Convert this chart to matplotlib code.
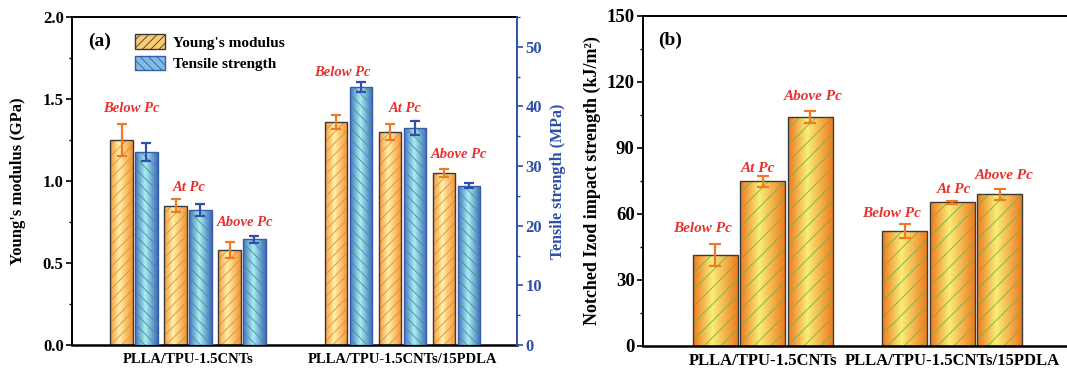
import numpy as np
import matplotlib
matplotlib.use('Agg')
import matplotlib.pyplot as plt
from matplotlib.ticker import MultipleLocator
from matplotlib.colors import LinearSegmentedColormap
from matplotlib.patches import Patch

# ---------------- data ----------------
groups = ['PLLA/TPU-1.5CNTs', 'PLLA/TPU-1.5CNTs/15PDLA']
states = ['Below Pc', 'At Pc', 'Above Pc']
# panel (a)
young_modulus = [[1.25, 0.85, 0.58], [1.36, 1.30, 1.05]]      # GPa
young_err = [[0.10, 0.04, 0.05], [0.04, 0.047, 0.025]]
tensile_strength = [[32.3, 22.7, 17.7], [43.3, 36.4, 26.7]]   # MPa
tensile_err = [[1.5, 1.0, 0.6], [0.8, 1.2, 0.4]]
# panel (b)
impact_strength = [[41.3, 74.8, 104.2], [52.2, 65.2, 68.9]]   # kJ/m2
impact_err = [[5.0, 2.5, 2.7], [3.0, 0.6, 2.4]]

# ---------------- style / layout ----------------
plt.rcParams['font.family'] = ['Liberation Serif', 'DejaVu Serif']
plt.rcParams['font.weight'] = 'bold'
plt.rcParams['axes.labelweight'] = 'bold'
plt.rcParams['hatch.linewidth'] = 0.6

RED = '#E8312F'
BLUE = '#2F4FA8'
cm_orange = LinearSegmentedColormap.from_list('o', [(0, '#F59A3A'), (0.4, '#FFF1A8'), (1, '#F29433')])
cm_blue = LinearSegmentedColormap.from_list('b', [(0, '#4573C4'), (0.45, '#A9EEF4'), (1, '#3D68BC')])
cm_b = LinearSegmentedColormap.from_list('y', [(0, '#EF7A1E'), (0.42, '#F8EE78'), (1, '#EE781C')])
grad = np.linspace(0, 1, 64).reshape(1, -1)

# label offsets in points (dx, dy) from bar-pair centre / error-bar top
lab_off_a = [[(-2, 11), (1, 8.5), (2, 9.5)], [(-4, 6.5), (2, 8.5), (2, 10.5)]]
lab_off_b = [[(-9, 11), (-3.5, 5.5), (2, 10)], [(-9.5, 8), (1, 8.5), (3, 9.5)]]

fig = plt.figure(figsize=(10.67, 3.69), dpi=100)
axA = fig.add_axes([72 / 1067, 1 - 345 / 369, 445 / 1067, 328 / 369])
axA2 = axA.twinx()
axB = fig.add_axes([643 / 1067, 1 - 345.7 / 369, 430 / 1067, 329.7 / 369])


def fancy_bars(ax, x, h, w, cmap, hatch, hatch_col, edge_col):
    base = ax.bar(x, h, w, color=cmap(0.5), linewidth=0, zorder=1)
    for r in base:
        bx, by, bw, bh = r.get_x(), r.get_y(), r.get_width(), r.get_height()
        im = ax.imshow(grad, cmap=cmap, extent=[bx, bx + bw, by, by + bh],
                       aspect='auto', zorder=1.5, interpolation='bilinear')
        im.set_clip_path(r)
    ax.bar(x, h, w, fill=False, hatch=hatch, edgecolor=hatch_col, linewidth=0, zorder=2)
    ax.bar(x, h, w, fill=False, edgecolor=edge_col, linewidth=1.0, zorder=2.5)


# ---------------- panel (a) ----------------
gpos = np.arange(len(groups))
pair_off = np.array([-0.252, 0.0, 0.252])
bw = 0.105
half = 0.0575
xpairs = (gpos[:, None] + pair_off[None, :]).ravel()
ym = np.array(young_modulus).ravel()
ye = np.array(young_err).ravel()
ts = np.array(tensile_strength).ravel()
te = np.array(tensile_err).ravel()

fancy_bars(axA, xpairs - half, ym, bw, cm_orange, '///', '#E48A3E', '#3A3A3A')
axA.errorbar(xpairs - half, ym, yerr=ye, fmt='none', ecolor='#F07A22', elinewidth=1.6,
             capsize=3.5, capthick=1.6, zorder=3)
fancy_bars(axA2, xpairs + half, ts, bw, cm_blue, '\\\\\\', '#3E9A70', '#3A5AAA')
axA2.errorbar(xpairs + half, ts, yerr=te, fmt='none', ecolor=BLUE, elinewidth=1.6,
              capsize=3.5, capthick=1.6, zorder=3)

axA.set_xlim(-0.541, 1.534)
axA.set_ylim(0, 2.0)
axA2.set_ylim(0, 55)
axA2.set_xlim(-0.541, 1.534)

for gi in range(len(groups)):
    for si in range(len(states)):
        top_y = young_modulus[gi][si] + young_err[gi][si]
        top_t = (tensile_strength[gi][si] + tensile_err[gi][si]) / 55 * 2.0
        top = max(top_y, top_t)
        dx, dy = lab_off_a[gi][si]
        axA.annotate(states[si], xy=(gi + pair_off[si], top), xytext=(dx, dy),
                     textcoords='offset points', ha='center', va='center',
                     color=RED, style='italic', fontweight='bold', fontsize=10.5, zorder=5)

axA.set_xticks(gpos)
axA.set_xticklabels(groups, fontsize=10.5)
axA.tick_params(axis='x', length=0, pad=6)
axA.yaxis.set_minor_locator(MultipleLocator(0.25))
axA.set_yticks([0.0, 0.5, 1.0, 1.5, 2.0])
axA.set_yticklabels(['0.0', '0.5', '1.0', '1.5', '2.0'])
axA.tick_params(axis='y', which='major', direction='out', length=4, width=1.2, labelsize=12, pad=2)
axA.tick_params(axis='y', which='minor', direction='out', length=2.5, width=1.0)
axA.set_ylabel("Young's modulus (GPa)", fontsize=12, labelpad=12)

axA2.yaxis.set_major_locator(MultipleLocator(10))
axA2.yaxis.set_minor_locator(MultipleLocator(5))
axA2.tick_params(axis='y', which='major', direction='out', length=4, width=1.2,
                 labelsize=12, colors=BLUE, pad=2)
axA2.tick_params(axis='y', which='minor', direction='out', length=2.5, width=1.0, colors=BLUE)
axA2.set_ylabel('Tensile strength (MPa)', fontsize=11.5, color=BLUE, labelpad=6)

for sp in ['left', 'top']:
    axA.spines[sp].set_linewidth(1.4)
axA.spines['bottom'].set_linewidth(1.8)
axA.spines['right'].set_visible(False)
axA2.spines['left'].set_visible(False)
axA2.spines['top'].set_visible(False)
axA2.spines['bottom'].set_visible(False)
axA2.spines['right'].set_color(BLUE)
axA2.spines['right'].set_linewidth(1.4)

axA.text(0.036, 0.925, '(a)', transform=axA.transAxes, fontsize=14, fontweight='bold',
         ha='left', va='center')
handles = [Patch(facecolor='#FBCB72', edgecolor='#3A3A3A', hatch='////', linewidth=1.0),
           Patch(facecolor='#7FBCE6', edgecolor='#3A5AAA', hatch='\\\\\\\\', linewidth=1.0)]
axA2.legend(handles, ["Young's modulus", 'Tensile strength'], loc='upper left',
            bbox_to_anchor=(0.11, 0.99), frameon=False, fontsize=11,
            handlelength=2.0, handleheight=1.1, labelspacing=0.4, handletextpad=0.5)

# ---------------- panel (b) ----------------
offs_b = np.array([-0.2507, 0.0, 0.2507])
wb = 0.2375
xb = (gpos[:, None] + offs_b[None, :]).ravel()
vb = np.array(impact_strength).ravel()
eb = np.array(impact_err).ravel()
fancy_bars(axB, xb, vb, wb, cm_b, '//', '#78AE4C', '#3A3A3A')
axB.errorbar(xb, vb, yerr=eb, fmt='none', ecolor='#F07A22', elinewidth=1.6,
             capsize=4, capthick=1.6, zorder=3)
axB.set_xlim(-0.633, 1.636)
axB.set_ylim(0, 150)
for gi in range(len(groups)):
    for si in range(len(states)):
        top = impact_strength[gi][si] + impact_err[gi][si]
        dx, dy = lab_off_b[gi][si]
        axB.annotate(states[si], xy=(gi + offs_b[si], top), xytext=(dx, dy),
                     textcoords='offset points', ha='center', va='center',
                     color=RED, style='italic', fontweight='bold', fontsize=11, zorder=5)
axB.set_xticks(gpos)
axB.set_xticklabels(groups, fontsize=12)
axB.tick_params(axis='x', length=0, pad=5)
axB.yaxis.set_major_locator(MultipleLocator(30))
axB.yaxis.set_minor_locator(MultipleLocator(15))
axB.tick_params(axis='y', which='major', direction='out', length=4, width=1.2, labelsize=13.5, pad=2)
axB.tick_params(axis='y', which='minor', direction='out', length=2.5, width=1.0)
axB.set_ylabel('Notched Izod impact strength (kJ/m²)', fontsize=13, labelpad=4)
for sp in ['left', 'top', 'right']:
    axB.spines[sp].set_linewidth(1.4)
axB.spines['bottom'].set_linewidth(1.8)
axB.text(0.035, 0.925, '(b)', transform=axB.transAxes, fontsize=14, fontweight='bold',
         ha='left', va='center')

fig.savefig('out.png', dpi=100)
